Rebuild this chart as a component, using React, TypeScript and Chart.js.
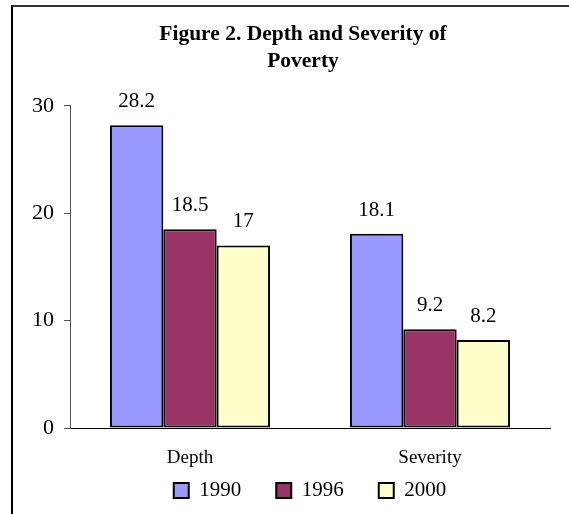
import React, { useEffect, useRef } from "react";
import { Chart, registerables } from "chart.js";

Chart.register(...registerables);

const categories = ["Depth", "Severity"];
const seriesNames = ["1990", "1996", "2000"];
const values1990 = [28.2, 18.1];
const values1996 = [18.5, 9.2];
const values2000 = [17, 8.2];
const seriesColors = ["#9999FF", "#993366", "#FFFFCC"];
const yMin = 0;
const yMax = 30;
const yStep = 10;
const titleLines = ["Figure 2. Depth and Severity of", "Poverty"];

const FONT = "'Liberation Serif', 'Times New Roman', serif";

const valueLabels = {
  id: "valueLabels",
  afterDatasetsDraw(chart: any) {
    const ctx = chart.ctx;
    ctx.save();
    ctx.font = `21px ${FONT}`;
    ctx.fillStyle = "#000";
    ctx.textAlign = "center";
    ctx.textBaseline = "alphabetic";
    chart.data.datasets.forEach((ds: any, di: number) => {
      const meta = chart.getDatasetMeta(di);
      meta.data.forEach((bar: any, i: number) => {
        ctx.fillText(String(ds.data[i]), bar.x, bar.y - 18);
      });
    });
    ctx.restore();
  },
};

export default function App() {
  const ref = useRef<HTMLCanvasElement>(null);
  useEffect(() => {
    if (!ref.current) return;
    const allValues = [values1990, values1996, values2000];
    const chart = new Chart(ref.current, {
      type: "bar",
      data: {
        labels: categories,
        datasets: seriesNames.map((name, i) => ({
          label: name,
          data: allValues[i],
          backgroundColor: seriesColors[i],
          borderColor: "#000",
          borderWidth: 2,
          borderSkipped: false,
          barPercentage: 1,
          categoryPercentage: 0.667,
        })),
      },
      options: {
        animation: false,
        responsive: true,
        maintainAspectRatio: false,
        layout: { padding: { top: 6, left: 56, right: 19, bottom: 3 } },
        plugins: {
          title: {
            display: true,
            text: titleLines,
            color: "#000",
            font: { family: FONT, size: 21.5, weight: "bold", lineHeight: 1.3 },
            padding: { top: 14, bottom: 30 },
          },
          legend: {
            display: true,
            position: "bottom",
            fullSize: false,
            labels: {
              color: "#000",
              font: { family: FONT, size: 21 },
              boxWidth: 15,
              boxHeight: 15,
              padding: 35,
            },
          },
          tooltip: { enabled: false },
        },
        scales: {
          x: {
            afterFit: (s: any) => {
              s.height = 17;
              s._computeLabelArea = () => undefined;
            },
            grid: { display: false, drawTicks: false },
            border: { display: true, color: "#000", width: 1 },
            ticks: {
              color: "#000",
              font: { family: FONT, size: 19 },
              padding: 19,
            },
          },
          y: {
            min: yMin,
            max: yMax,
            afterFit: (s: any) => {
              s.width = 14;
              s._computeLabelArea = () => undefined;
            },
            grid: {
              display: true,
              drawOnChartArea: false,
              drawTicks: true,
              tickLength: 6,
              color: "#555",
            },
            border: { display: true, color: "#555", width: 1 },
            ticks: {
              stepSize: yStep,
              color: "#000",
              font: { family: FONT, size: 22 },
              padding: 10,
            },
          },
        },
      },
      plugins: [valueLabels],
    });
    return () => chart.destroy();
  }, []);

  return (
    <div style={{ position: "absolute", left: 0, top: 0, width: 569, height: 514, background: "#fff" }}>
      <canvas ref={ref} style={{ width: 569, height: 514 }} />
      <div
        style={{
          position: "absolute",
          left: 11,
          top: 5,
          right: 0,
          bottom: -10,
          borderTop: "2px solid #333",
          borderLeft: "2px solid #000",
          pointerEvents: "none",
        }}
      />
    </div>
  );
}
